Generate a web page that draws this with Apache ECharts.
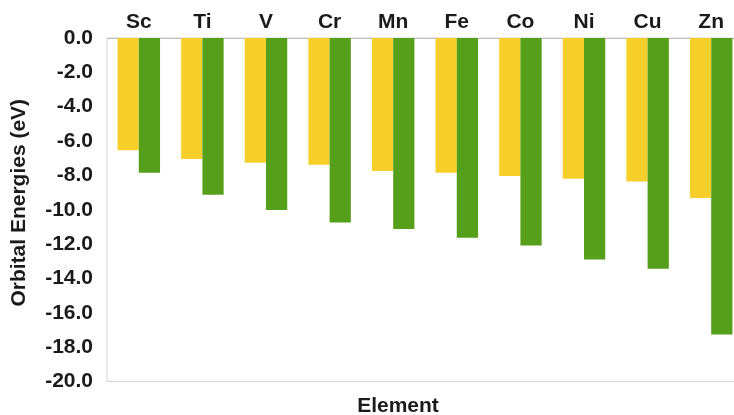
<!DOCTYPE html>
<html>
<head>
<meta charset="utf-8">
<script src="https://cdn.jsdelivr.net/npm/echarts@6/dist/echarts.min.js"></script>
<style>
  html, body { margin: 0; padding: 0; background: #fff; }
  #chart { width: 734px; height: 415px; }
</style>
</head>
<body>
<div id="chart"></div>
<script>
// Transition metals, 3d row
const elements = ['Sc', 'Ti', 'V', 'Cr', 'Mn', 'Fe', 'Co', 'Ni', 'Cu', 'Zn'];
// Orbital energies in eV
const orbitalA = [-6.54, -7.05, -7.26, -7.38, -7.75, -7.84, -8.04, -8.19, -8.35, -9.32];
const orbitalB = [-7.84, -9.13, -10.02, -10.74, -11.12, -11.63, -12.08, -12.89, -13.43, -17.26];
const yMin = -20, yMax = 0, yStep = 2;

const font = 'Liberation Sans, Arial, sans-serif';
const textColor = '#1a1a1a';
const chart = echarts.init(document.getElementById('chart'), null, { renderer: 'canvas' });

chart.setOption({
  animation: false,
  backgroundColor: '#ffffff',
  title: {
    text: 'Element',
    left: 393, top: 391,
    textAlign: 'center',
    textStyle: { fontFamily: font, fontWeight: 'bold', fontSize: 21, color: textColor }
  },
  grid: {
    left: 107, top: 38, width: 636, height: 343.5,
    outerBoundsMode: 'none',
    show: true, borderColor: '#d4d4d4', borderWidth: 1, backgroundColor: 'transparent'
  },
  xAxis: {
    type: 'category',
    data: elements,
    position: 'top',
    axisLine: { show: true, lineStyle: { color: '#c0c0c0', width: 1 } },
    axisTick: { show: false },
    axisLabel: {
      margin: 5,
      fontFamily: font, fontWeight: 'bold', fontSize: 21, color: textColor
    },
    splitLine: { show: false }
  },
  yAxis: {
    type: 'value',
    min: yMin, max: yMax, interval: yStep,
    name: 'Orbital Energies (eV)',
    nameLocation: 'middle',
    nameGap: 77,
    nameTextStyle: {
      fontFamily: font, fontWeight: 'bold', fontSize: 21, color: textColor,
      padding: [0, 0, 0, 14]
    },
    axisLine: { show: false },
    axisTick: { show: false },
    splitLine: { show: false },
    axisLabel: {
      margin: 14,
      formatter: v => v.toFixed(1),
      fontFamily: font, fontWeight: 'bold', fontSize: 21, color: textColor
    }
  },
  series: [
    {
      type: 'bar', data: orbitalA,
      itemStyle: { color: '#f6cf2a' },
      barWidth: '33.4%', barGap: '0%'
    },
    {
      type: 'bar', data: orbitalB,
      itemStyle: { color: '#559f1b' },
      barWidth: '33.4%', barGap: '0%'
    }
  ]
});
</script>
</body>
</html>
